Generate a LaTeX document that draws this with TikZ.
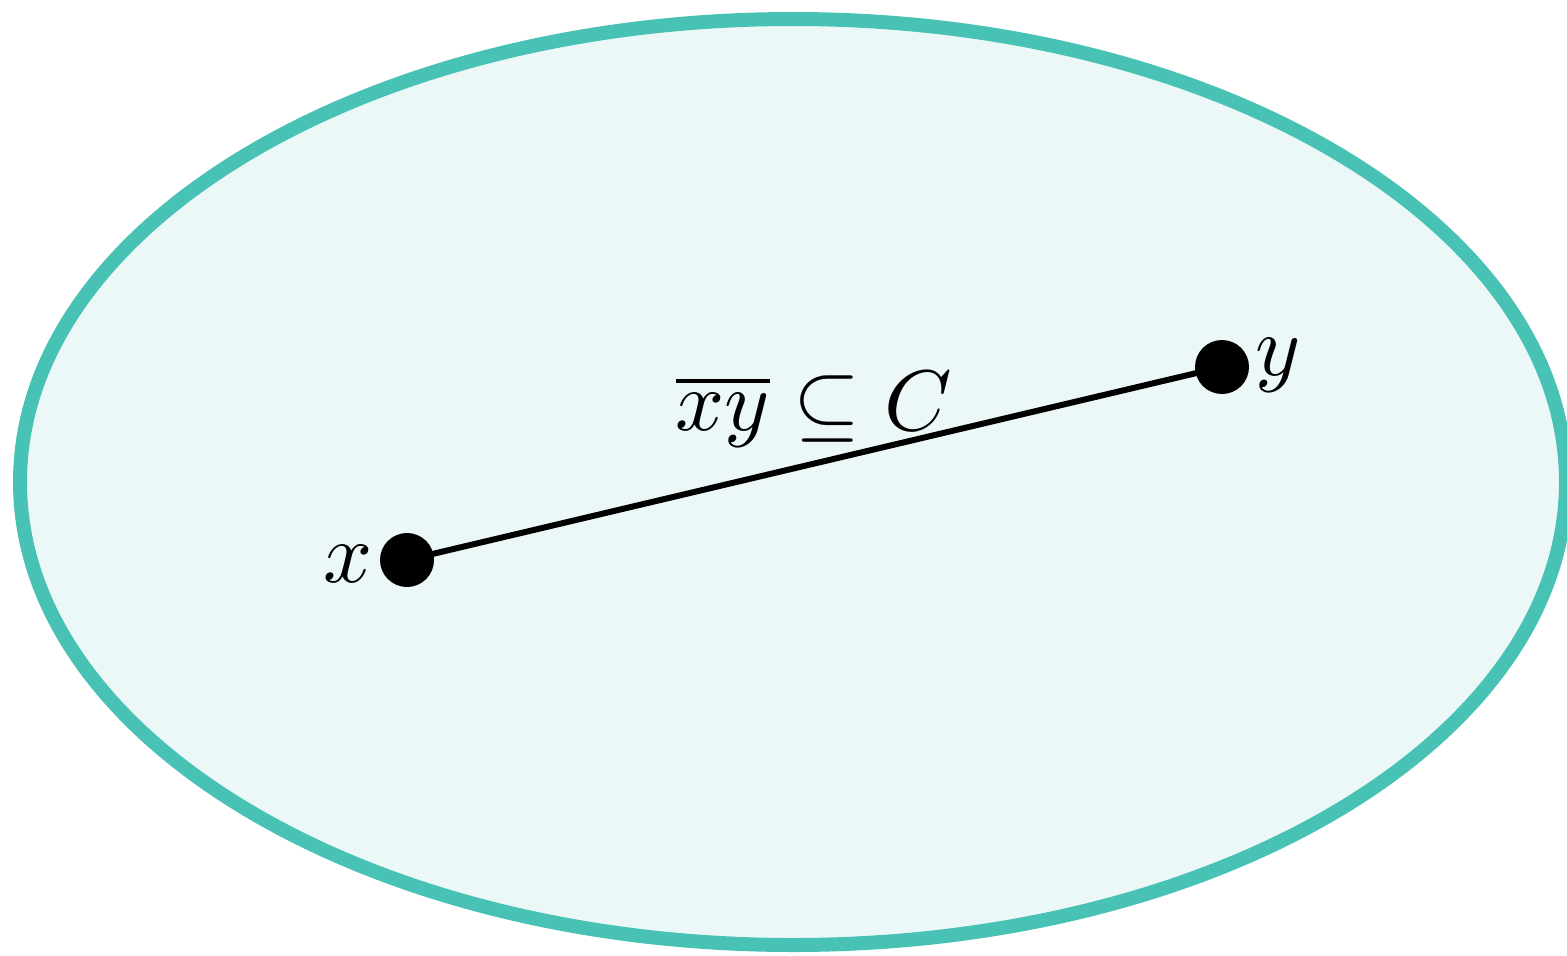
\documentclass[tikz,border=0pt]{standalone}
\usepackage{graphicx}
\definecolor{rim}{RGB}{72,194,180}
\definecolor{inside}{RGB}{236,248,248}
\newcommand{\hugemath}[1]{\scalebox{8.6}{$#1$}}
\tikzset{
  pt/.style={circle,fill=black,inner sep=0pt,minimum size=54pt},
  lbl/.style={inner sep=0pt},
  seg/.style={line width=6pt,black}
}
\begin{document}
\begin{tikzpicture}[x=1pt,y=-1pt]
\useasboundingbox (0,0) rectangle (1567,956);
\draw[rim,fill=inside,line width=14pt] (793,482) ellipse [x radius=773, y radius=463];
\node[pt] (x) at (407,560) {};
\node[pt] (y) at (1222,367) {};
\draw[seg] (x.center) -- (y.center);
\node[lbl,anchor=base] (lx) at (348,582) {\hugemath{x}};
\node[lbl,anchor=base] (ly) at (1278,375) {\hugemath{y}};
\node[lbl,anchor=base] (lc) at (814,430) {\hugemath{\overline{xy}\subseteq C}};
\end{tikzpicture}
\end{document}
